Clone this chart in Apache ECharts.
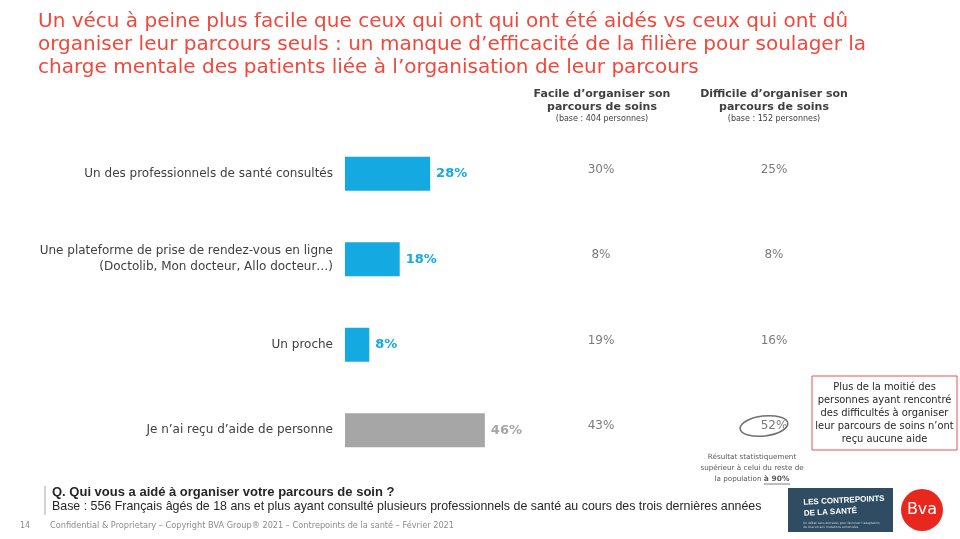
<!DOCTYPE html>
<html><head><meta charset="utf-8">
<script src="https://cdn.jsdelivr.net/npm/echarts@6/dist/echarts.min.js"></script>
<style>html,body{margin:0;padding:0;background:#fff}#c{width:960px;height:539px}</style>
</head><body><div id="c"></div>
<script>
const categories = [
  'Un des professionnels de santé consultés',
  'Une plateforme de prise de rendez-vous en ligne\n(Doctolib, Mon docteur, Allo docteur…)',
  'Un proche',
  'Je n’ai reçu d’aide de personne'
];
const totalValues = [28, 18, 8, 46];
const facileValues = [30, 8, 19, 43];
const difficileValues = [25, 8, 16, 52];
const highlightIndex = 3;

const blue = '#14A9E0', grey = '#A6A6A6';
const chart = echarts.init(document.getElementById('c'));
const font = 'DejaVu Sans';

function colSeries(vals, gi) {
  return {
    type: 'scatter', xAxisIndex: gi, yAxisIndex: gi, symbolSize: 1,
    itemStyle: {color: 'rgba(0,0,0,0)'}, silent: true,
    data: vals.map((v, i) => [0, i]),
    label: {show: true, position: 'inside', offset: [0, -4],
      formatter: p => vals[p.dataIndex] + '%',
      color: '#595959', fontSize: 12, fontFamily: font}
  };
}

const option = {
  animation: false,
  grid: [
    {left: 345, top: 131, width: 304, height: 342},
    {left: 561, top: 131, width: 80, height: 342},
    {left: 734, top: 131, width: 80, height: 342}
  ],
  xAxis: [
    {type: 'value', min: 0, max: 100, show: false},
    {type: 'value', min: -1, max: 1, show: false, gridIndex: 1},
    {type: 'value', min: -1, max: 1, show: false, gridIndex: 2}
  ],
  yAxis: [
    {type: 'category', data: categories, inverse: true,
      axisLine: {show: false}, axisTick: {show: false},
      axisLabel: {color: '#404040', fontSize: 12, fontFamily: font, margin: 12, lineHeight: 16, align: 'right'}},
    {type: 'category', data: categories, inverse: true, show: false, gridIndex: 1},
    {type: 'category', data: categories, inverse: true, show: false, gridIndex: 2}
  ],
  series: [
    {type: 'bar', barWidth: 34,
      data: totalValues.map((v, i) => ({value: v,
        itemStyle: {color: i === highlightIndex ? grey : blue},
        label: {color: i === highlightIndex ? grey : blue}})),
      label: {show: true, position: 'right', distance: 6, formatter: '{c}%',
        fontWeight: 'bold', fontSize: 13, fontFamily: font}},
    colSeries(facileValues, 1),
    colSeries(difficileValues, 2)
  ],
  graphic: [
    {type: 'text', left: 38, top: 10, style: {
      text: 'Un vécu à peine plus facile que ceux qui ont qui ont été aidés vs ceux qui ont dû\norganiser leur parcours seuls : un manque d’efficacité de la filière pour soulager la\ncharge mentale des patients liée à l’organisation de leur parcours',
      font: '20px "DejaVu Sans"', lineHeight: 23, fill: '#F2473B'}},
    {type: 'text', x: 602, y: 88, style: {text: 'Facile d’organiser son\nparcours de soins', align: 'center',
      font: 'bold 11px "DejaVu Sans"', lineHeight: 13, fill: '#404040'}},
    {type: 'text', x: 602, y: 115, style: {text: '(base : 404 personnes)', align: 'center',
      font: '8px "DejaVu Sans"', fill: '#404040'}},
    {type: 'text', x: 774, y: 88, style: {text: 'Difficile d’organiser son\nparcours de soins', align: 'center',
      font: 'bold 11px "DejaVu Sans"', lineHeight: 13, fill: '#404040'}},
    {type: 'text', x: 774, y: 115, style: {text: '(base : 152 personnes)', align: 'center',
      font: '8px "DejaVu Sans"', fill: '#404040'}},
    {type: 'ellipse', shape: {cx: 0, cy: 0, rx: 24, ry: 10}, x: 764, y: 426, rotation: 0.12,
      style: {fill: 'none', stroke: '#707070', lineWidth: 1.5}},
    {type: 'text', x: 752, y: 452, style: {text: 'Résultat statistiquement\nsupérieur à celui du reste de\nla population {b|à 90%}', align: 'center',
      font: '7.2px "DejaVu Sans"', lineHeight: 11, fill: '#595959',
      rich: {b: {fontWeight: 'bold', fontSize: 7.5, fontFamily: 'DejaVu Sans', fill: '#595959', lineHeight: 11}}}},
    {type: 'line', shape: {x1: 764, y1: 484, x2: 790, y2: 484}, style: {stroke: '#595959', lineWidth: 0.8}},
    {type: 'rect', shape: {x: 812, y: 376, width: 145, height: 74}, style: {fill: '#fff', stroke: '#E8505B', lineWidth: 1}},
    {type: 'text', x: 884.5, y: 381, style: {text: 'Plus de la moitié des\npersonnes ayant rencontré\ndes difficultés à organiser\nleur parcours de soins n’ont\nreçu aucune aide',
      align: 'center', font: '11px "DejaVu Sans Condensed", "DejaVu Sans"', lineHeight: 13, fill: '#262626'}},
    {type: 'line', shape: {x1: 45, y1: 486, x2: 45, y2: 515}, style: {stroke: '#A6A6A6', lineWidth: 1}},
    {type: 'text', x: 52, y: 486, style: {text: 'Q. Qui vous a aidé à organiser votre parcours de soin ?',
      font: 'bold 13px "Liberation Sans"', fill: '#262626'}},
    {type: 'text', x: 52, y: 501, style: {text: 'Base : 556 Français âgés de 18 ans et plus ayant consulté plusieurs professionnels de santé au cours des trois dernières années',
      font: '12.4px "Liberation Sans"', fill: '#262626'}},
    {type: 'text', x: 20, y: 522, style: {text: '14', font: '8px "DejaVu Sans"', fill: '#8C8C8C'}},
    {type: 'text', x: 50, y: 522, style: {text: 'Confidential & Proprietary – Copyright BVA Group® 2021 – Contrepoints de la santé – Février 2021',
      font: '8.2px "DejaVu Sans"', fill: '#8C8C8C'}},
    {type: 'rect', shape: {x: 788, y: 488, width: 105, height: 44}, style: {fill: '#2F4C63'}},
    {type: 'text', x: 803, y: 497, rotation: 0.05, style: {text: 'LES CONTREPOINTS\nDE LA SANTÉ',
      font: 'bold 8px "Liberation Sans"', lineHeight: 11, fill: '#fff'}},
    {type: 'text', x: 803, y: 521, style: {text: 'Un débat sans entraves pour favoriser l’adaptation\nde chacun aux mutations annoncées',
      font: '3px "DejaVu Sans"', lineHeight: 4, fill: '#c8d3dc'}},
    {type: 'circle', shape: {cx: 922, cy: 510, r: 21}, style: {fill: '#E8281E'}},
    {type: 'text', x: 922, y: 510, style: {text: 'Bva', align: 'center', verticalAlign: 'middle',
      font: '16px "DejaVu Sans"', fill: '#fff'}}
  ]
};
chart.setOption(option);
</script></body></html>
